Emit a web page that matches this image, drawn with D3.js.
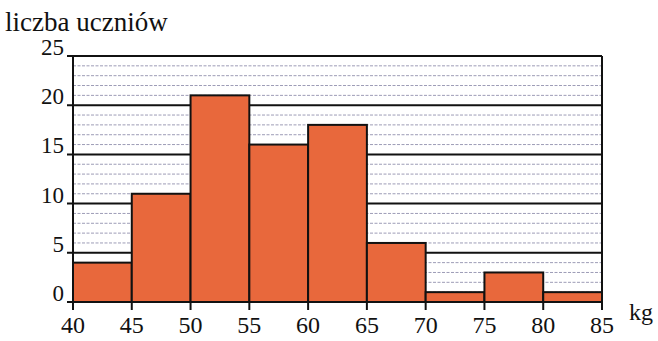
<!DOCTYPE html>
<html>
<head>
<meta charset="utf-8">
<script src="https://cdn.jsdelivr.net/npm/d3@7"></script>
<style>
  body { margin: 0; background: #fff; }
</style>
</head>
<body>
<div id="chart"></div>
<script>
// class boundaries (kg) and counts per class
var binStarts = [40, 45, 50, 55, 60, 65, 70, 75, 80];
var binWidth = 5;
var counts = [4, 11, 21, 16, 18, 6, 1, 3, 1];
var xTicks = [40, 45, 50, 55, 60, 65, 70, 75, 80, 85];
var yTicks = [0, 5, 10, 15, 20, 25];
var yMinor = d3.range(1, 25).filter(function (d) { return d % 5 != 0; });

var width = 658;
var height = 341;
var serif = "'Liberation Serif', 'DejaVu Serif', 'Noto Serif', Tinos, FreeSerif, 'Nimbus Roman', 'Times New Roman', Times, serif";

var svg = d3.select("#chart")
    .append("svg")
    .attr("width", width)
    .attr("height", height)
    .style("font-family", serif);

var x = d3.scaleLinear()
    .domain([40, 85])
    .range([73, 602]);

var y = d3.scaleLinear()
    .domain([0, 25])
    .range([302, 56]);

// minor grid lines
svg.append("g")
    .selectAll("line")
    .data(yMinor)
    .enter().append("line")
    .attr("x1", x(40))
    .attr("x2", x(85))
    .attr("y1", function (d) { return y(d); })
    .attr("y2", function (d) { return y(d); })
    .attr("stroke", "#9d9cb6")
    .attr("stroke-width", 1)
    .attr("stroke-dasharray", "3,1.5");

// major grid lines with ticks to the left of the axis
svg.append("g")
    .selectAll("line")
    .data(yTicks.filter(function (d) { return d > 0; }))
    .enter().append("line")
    .attr("x1", x(40) - 6)
    .attr("x2", x(85))
    .attr("y1", function (d) { return y(d); })
    .attr("y2", function (d) { return y(d); })
    .attr("stroke", "#111")
    .attr("stroke-width", 2);

// bars
svg.append("g")
    .selectAll("rect")
    .data(counts)
    .enter().append("rect")
    .attr("x", function (d, i) { return x(binStarts[i]); })
    .attr("y", function (d) { return y(d); })
    .attr("width", function (d, i) { return x(binStarts[i] + binWidth) - x(binStarts[i]); })
    .attr("height", function (d) { return y(0) - y(d); })
    .attr("fill", "#e8683c")
    .attr("stroke", "#111")
    .attr("stroke-width", 2);

// left axis and right border
svg.append("line")
    .attr("x1", x(40)).attr("x2", x(40))
    .attr("y1", y(0)).attr("y2", y(25))
    .attr("stroke", "#111").attr("stroke-width", 2);
svg.append("line")
    .attr("x1", x(85)).attr("x2", x(85))
    .attr("y1", y(0)).attr("y2", y(25))
    .attr("stroke", "#111").attr("stroke-width", 2);

// baseline
svg.append("line")
    .attr("x1", x(40) - 6).attr("x2", x(85))
    .attr("y1", y(0)).attr("y2", y(0))
    .attr("stroke", "#111").attr("stroke-width", 2);

// x ticks
svg.append("g")
    .selectAll("line")
    .data(xTicks)
    .enter().append("line")
    .attr("x1", function (d) { return x(d); })
    .attr("x2", function (d) { return x(d); })
    .attr("y1", y(0))
    .attr("y2", y(0) + 8)
    .attr("stroke", "#111")
    .attr("stroke-width", 2);

// x labels
svg.append("g")
    .selectAll("text")
    .data(xTicks)
    .enter().append("text")
    .attr("x", function (d) { return x(d); })
    .attr("y", 333)
    .attr("text-anchor", "middle")
    .attr("font-size", "24px")
    .attr("fill", "#111")
    .text(function (d) { return d; });

// y labels
svg.append("g")
    .selectAll("text")
    .data(yTicks)
    .enter().append("text")
    .attr("x", 64)
    .attr("y", function (d) { return y(d) - 1; })
    .attr("text-anchor", "end")
    .attr("font-size", "23px")
    .attr("fill", "#111")
    .text(function (d) { return d; });

svg.append("text")
    .attr("x", 5)
    .attr("y", 31)
    .attr("font-size", "27px")
    .attr("fill", "#111")
    .text("liczba uczniów");

svg.append("text")
    .attr("x", 629)
    .attr("y", 320)
    .attr("font-size", "24px")
    .attr("fill", "#111")
    .text("kg");
</script>
</body>
</html>
